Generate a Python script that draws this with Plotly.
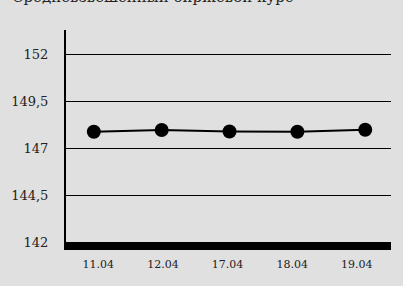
import plotly.graph_objects as go

dates = ["11.04", "12.04", "17.04", "18.04", "19.04"]
rates = [147.88, 147.97, 147.89, 147.88, 147.98]
y_ticks = [142, 144.5, 147, 149.5, 152]
title = "Средневзвешенный биржевой курс"

FONT = "DejaVu Serif"
BG = "#e0e0e0"

fig = go.Figure()
fig.add_trace(go.Scatter(
    x=dates, y=rates, mode="lines+markers",
    line=dict(color="black", width=2),
    marker=dict(color="black", size=14),
    xaxis="x", yaxis="y", hoverinfo="skip", showlegend=False,
))
# invisible trace carrying the category labels
fig.add_trace(go.Scatter(
    x=dates, y=rates, mode="markers", marker=dict(opacity=0),
    xaxis="x2", yaxis="y", hoverinfo="skip", showlegend=False,
))

fig.update_layout(
    width=403, height=286,
    margin=dict(l=66, r=12, t=30, b=44),
    paper_bgcolor=BG, plot_bgcolor=BG,
    separators=", ",
    font=dict(family=FONT, color="#222"),
    xaxis=dict(
        type="category", range=[-0.41, 4.38],
        showgrid=False, showticklabels=False, zeroline=False,
        showline=True, linecolor="black", linewidth=8,
    ),
    xaxis2=dict(
        type="category", range=[-0.5, 4.53], overlaying="x",
        showgrid=False, zeroline=False, showline=False,
        tickfont=dict(size=11, color="#222"), ticklabelstandoff=14,
    ),
    yaxis=dict(
        range=[142, 153.3], tickvals=y_ticks,
        showgrid=True, gridcolor="black", gridwidth=1,
        zeroline=False, showline=True, linecolor="black", linewidth=2,
        tickfont=dict(size=13, color="#222"), ticklabelstandoff=13,
    ),
    annotations=[dict(
        text=title, x=0, xref="paper", xanchor="left", xshift=-56,
        y=1.103, yref="paper", yanchor="bottom", showarrow=False,
        font=dict(size=15, family=FONT, color="#222"),
    )],
)

fig.write_html(
    "out.html",
    config={"displayModeBar": False},
    post_script="document.body.style.margin='0';",
)
